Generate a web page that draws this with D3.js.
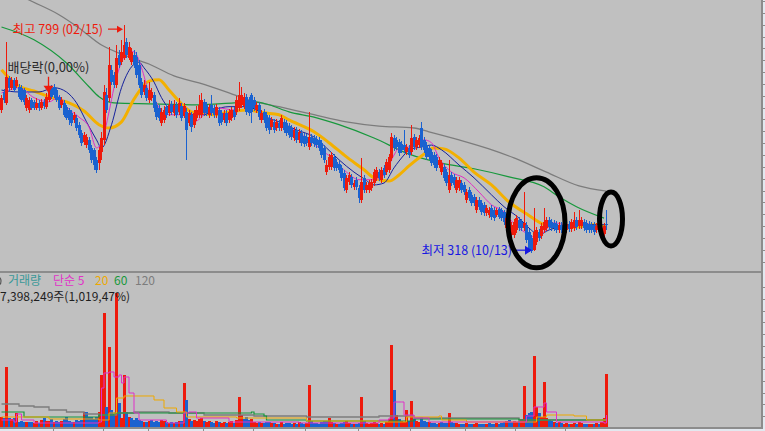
<!DOCTYPE html>
<html><head><meta charset="utf-8">
<script src="https://cdn.jsdelivr.net/npm/d3@7/dist/d3.min.js"></script>
<style>
html,body{margin:0;padding:0;overflow:hidden;background:#c0c0c0}
svg{display:block}
text{font-family:"Noto Sans CJK KR","Noto Sans",sans-serif}
</style></head><body>
<svg id="chart" width="765" height="431"></svg>
<script>
// ---------------- DATA (daily candles, price in KRW, volume in thousand shares) ----------------
const opens=[620,658,635,688,667,684,671,669,667,662,
624,620,641,637,624,635,624,637,627,641,
667,669,662,648,631,635,627,620,614,599,
603,589,572,553,546,557,540,536,515,508,
532,557,652,646,705,694,673,736,721,730,
764,730,721,736,732,715,679,658,667,641,
646,652,631,624,593,599,627,614,633,614,
631,616,629,608,616,593,610,589,603,610,
610,637,631,610,631,624,610,620,614,599,
614,599,603,620,616,624,631,629,648,641,
652,641,620,631,599,616,610,603,584,595,
582,593,582,595,593,586,582,561,578,557,
572,565,563,542,563,561,559,557,551,540,
489,500,500,521,511,506,498,487,452,468,
479,458,473,456,430,477,452,452,456,466,
477,489,473,498,489,494,519,561,557,553,
549,546,532,540,532,563,542,546,582,557,
546,540,532,525,521,504,489,500,489,452,
483,479,452,456,466,462,430,452,441,437,
409,430,424,420,403,399,414,409,399,411,
409,405,371,363,357,357,367,388,384,371,
378,363,350,325,342,363,354,367,371,388,
384,382,380,367,378,363,367,380,369,371,
388,376,376,384,382,380,378,378,367,376,
361,359,379];
const highs=[652,665,764,692,690,688,690,675,673,667,
652,648,646,641,646,641,643,643,656,669,
673,675,667,652,648,641,631,624,620,616,
610,595,578,574,570,563,546,540,521,542,
574,673,667,753,715,700,757,747,768,799,
772,764,751,747,743,726,688,684,673,679,
667,658,637,631,624,629,633,641,639,641,
637,646,635,635,624,620,616,620,629,652,
656,643,637,633,652,631,633,627,620,620,
620,622,627,627,650,679,669,656,654,648,
656,648,637,637,620,622,616,610,605,601,
601,599,610,601,599,593,589,584,584,580,
578,572,570,616,570,567,565,563,557,546,
515,527,532,527,517,513,504,494,483,489,
485,473,479,462,519,483,468,473,475,496,
500,496,500,504,517,527,572,567,563,559,
555,578,549,546,589,570,563,567,595,563,
553,546,538,532,527,521,515,506,496,515,
489,485,479,479,473,468,454,458,447,443,
437,437,430,426,420,416,420,416,414,416,
414,409,397,392,384,390,399,395,390,447,
384,369,357,414,373,369,382,414,395,395,
390,388,386,384,384,384,386,386,390,405,
395,409,395,390,388,386,384,384,382,382,
378,382,409];
const lows=[614,635,631,658,662,658,667,643,637,631,
618,614,620,620,620,618,620,622,622,637,
643,646,637,620,624,605,599,589,586,593,
576,561,544,546,540,530,508,494,487,494,
515,546,614,637,673,667,667,709,715,726,
730,726,715,709,688,667,646,652,639,635,
639,616,599,597,586,593,603,608,610,608,
603,610,597,603,515,586,574,582,597,603,
603,608,608,603,608,603,603,586,589,593,
586,593,597,599,610,618,624,622,610,608,
593,618,614,599,593,593,576,570,578,572,
576,576,576,572,565,561,557,555,551,551,
544,542,544,536,544,542,540,534,519,508,
483,494,494,492,492,487,470,449,445,462,
456,452,452,424,424,445,445,445,449,460,
470,470,466,477,483,487,513,534,536,523,
530,530,525,519,525,536,536,540,536,530,
515,515,502,498,492,498,483,470,460,445,
460,456,445,449,445,441,424,428,418,418,
403,409,399,397,397,392,388,386,395,390,
386,378,365,357,350,350,361,365,365,365,
340,321,318,323,336,344,348,361,365,367,
365,365,361,361,361,357,361,363,363,365,
367,369,369,365,361,361,361,357,361,357,
354,352,367];
const closes=[646,641,690,667,684,662,684,648,641,637,
646,641,624,624,635,624,637,629,648,662,
648,652,641,624,641,610,603,599,593,610,
582,567,551,567,563,536,515,504,494,536,
561,658,620,715,679,673,730,715,743,757,
736,753,743,715,694,673,652,673,646,662,
658,624,605,603,616,620,610,631,616,631,
610,635,603,629,578,614,584,614,620,631,
641,614,614,627,614,610,627,593,595,614,
593,616,620,605,641,652,652,648,616,614,
616,624,631,605,614,599,582,578,599,578,
595,582,603,578,572,567,563,578,557,574,
551,549,551,563,551,549,546,540,525,515,
504,521,525,498,498,494,477,456,477,483,
462,466,458,435,468,452,462,466,468,489,
494,477,494,483,511,521,563,540,542,530,
536,536,542,525,561,542,557,561,542,536,
521,521,508,504,498,515,508,477,466,483,
466,462,473,473,452,447,447,435,424,424,
430,416,405,403,414,409,395,392,409,395,
392,384,392,388,378,384,392,371,371,382,
346,325,323,363,367,350,376,384,388,373,
371,371,367,378,367,378,380,369,384,388,
373,388,388,371,367,367,367,363,376,363,
371,376,377];
const volumes=[1400,1260,8380,1260,1120,1260,1960,700,840,700,
700,700,700,560,840,560,980,1260,840,840,
1120,700,840,700,840,1120,1400,840,700,700,
980,840,980,2100,2100,1400,1400,1120,1400,2100,
7260,15960,2800,11200,2380,1680,18760,3360,1260,7260,
2100,1400,1260,980,1260,980,840,700,700,840,
980,700,840,700,980,840,700,560,700,560,
700,840,840,6160,3780,1120,840,980,840,1120,
1260,840,700,840,700,560,840,700,560,700,
560,700,840,560,980,4200,1680,1120,1400,980,
1120,700,560,700,560,560,700,700,560,560,
420,420,700,420,560,560,420,560,420,700,
560,420,560,5880,840,560,560,420,700,840,
840,1260,700,560,420,420,560,700,840,560,
420,420,420,560,4200,840,560,420,560,700,
560,420,560,420,700,1120,11480,5180,1680,1120,
840,700,2380,840,3640,1120,840,700,1400,840,
700,700,560,560,420,560,700,560,560,1960,
700,560,560,420,420,420,560,420,420,420,
560,420,420,420,420,560,420,420,560,420,
560,700,840,980,700,840,700,840,1120,5740,
1680,1960,2100,9940,2800,1960,1400,6300,1260,980,
840,700,560,700,560,420,560,420,420,560,
420,700,560,420,420,420,420,420,560,420,
700,1260,7398];

// moving averages: [candle index, value]
const ma5Pts=[[0,656],[3,662],[7,667],[13,646],[19,637],[23,648],[26,627],[31,605],[35,584],[38,540],[40,551],[43,616],[45,667],[48,721],[51,743],[53,743],[56,709],[59,658],[61,646],[64,616],[67,610],[73,610],[77,595],[81,610],[83,620],[87,624],[93,620],[95,637],[98,641],[102,627],[106,603],[111,589],[117,578],[122,561],[127,540],[133,515],[138,489],[143,473],[149,473],[153,483],[157,525],[159,540],[163,542],[169,557],[172,551],[175,519],[180,489],[185,477],[191,447],[196,420],[201,405],[203,392],[207,371],[211,357],[214,350],[217,363],[221,382],[226,378],[233,382],[238,373],[242,371]];
const ma10Pts=[[0,662],[7,658],[15,658],[21,667],[26,658],[30,635],[34,595],[38,557],[40,540],[44,589],[48,667],[52,711],[55,721],[57,709],[61,679],[64,646],[67,624],[71,616],[75,610],[81,610],[85,620],[91,627],[98,627],[102,620],[106,605],[111,595],[118,578],[125,563],[130,540],[135,515],[141,489],[145,475],[149,462],[153,466],[157,498],[161,525],[163,536],[168,542],[172,546],[176,536],[183,504],[189,477],[196,441],[201,416],[207,392],[211,371],[215,357],[219,367],[223,373],[230,378],[242,378]];
const ma20Pts=[[0,705],[6,673],[13,660],[19,648],[26,637],[33,618],[39,589],[43,582],[48,595],[53,643],[59,681],[63,684],[67,662],[72,633],[76,616],[85,610],[91,616],[98,620],[105,614],[111,610],[115,599],[125,574],[131,551],[138,521],[145,494],[149,477],[155,470],[159,483],[163,502],[168,523],[173,540],[177,538],[183,519],[189,489],[196,462],[203,426],[210,401],[217,378],[223,371],[230,373],[237,378],[242,373]];
const ma60Pts=[[0,795],[13,768],[26,719],[35,669],[39,648],[45,635],[59,633],[79,631],[93,635],[101,637],[107,631],[115,616],[125,605],[135,589],[149,561],[163,527],[176,508],[189,496],[203,479],[217,458],[223,437],[230,416],[241,392]];
const ma120Pts=[[0,882],[11,852],[23,821],[31,793],[40,757],[49,736],[59,717],[69,692],[79,677],[91,656],[99,641],[111,627],[125,610],[138,595],[151,586],[165,582],[171,574],[183,557],[195,538],[205,519],[218,489],[231,460],[242,449]];
const vma5Pts=[[0,977],[5,698],[6,1815],[8,977],[13,558],[39,698],[40,5444],[41,7538],[43,7678],[45,6980],[47,7259],[48,6142],[49,6980],[51,4746],[53,1954],[55,977],[66,558],[73,1954],[75,2094],[78,1256],[91,698],[119,558],[151,977],[155,1256],[157,3490],[160,3490],[161,1675],[165,1256],[171,698],[209,698],[210,1536],[213,2792],[215,2792],[217,3350],[218,2094],[221,2094],[222,698],[241,558],[242,1675]];
const vma20Pts=[[0,1396],[11,1396],[19,1117],[39,977],[43,1954],[46,4048],[49,4328],[57,4328],[61,3769],[65,2652],[70,2094],[74,1396],[79,1396],[94,1256],[122,838],[151,698],[162,1396],[175,1536],[176,977],[186,698],[207,698],[214,1396],[218,1675],[229,1536],[234,977],[242,977]];
const vma60Pts=[[0,2094],[8,2094],[9,1396],[39,1675],[45,1954],[66,1954],[100,2094],[101,1815],[105,1536],[106,977],[122,838],[151,838],[165,1117],[186,1117],[207,977],[242,977]];
const vma120Pts=[[0,3211],[7,2932],[13,2792],[19,2373],[26,2094],[33,1815],[39,1675],[46,1954],[53,2094],[67,1954],[81,1675],[101,1536],[122,1396],[151,1536],[165,1256],[207,977],[242,977]];

const priceTicks=[300,325,350,375,400,425,450,475,500,525,550,575,600,625,650,675,700,725,750,775,800,825,850];
const volTicks=[1540,3170,4800,6440,8070,9710,11340,12970,14610,16240,17870,19510];
const monthStarts=[20,40,58,80,100,121,142,163,185,205,225];

const hiIdx=49, hiVal=799, hiLabel="최고 799 (02/15)";
const loIdx=212, loVal=318, loLabel="최저 318 (10/13)";
const divIdx=19, divLabel="배당락(0,00%)";
const circles=[[214,382],[243.8,390]];
const volLegend=[["거래량","#3a9898"],["단순 5","#e030c8"],["20","#eea800"],["60","#18983a"],["120","#7c7c7c"]];
const volText="7,398,249주(1,019,47%)";

// ---------------- DRAW ----------------
const RED="#ee1a0c", BLUE="#1a62d0";
const svg=d3.select("#chart");
const x=d3.scaleLinear().domain([0,242]).range([1.5,606.5]);
const y=d3.scaleLinear().domain([278.3,852]).range([272,0]);
const vy=d3.scaleLinear().domain([0,21636]).range([427,272]);

svg.append("rect").attr("width",765).attr("height",431).attr("fill","#c0c0c0");
const defs=svg.append("defs");
defs.append("clipPath").attr("id","cp").append("rect").attr("x",0).attr("y",0).attr("width",762).attr("height",271);
defs.append("clipPath").attr("id","cv").append("rect").attr("x",0).attr("y",273).attr("width",762).attr("height",155);

const gP=svg.append("g").attr("clip-path","url(#cp)");
const lineP=d3.line().x(d=>x(d[0])).y(d=>y(d[1])).curve(d3.curveMonotoneX);
[[ma120Pts,"#7c7c7c",1.3],[ma60Pts,"#17983c",1.2],[ma20Pts,"#f3b000",3],[ma10Pts,"#15219c",1],[ma5Pts,"#e02ec6",1]]
 .forEach(([pts,c,w])=>gP.append("path").attr("d",lineP(pts)).attr("fill","none").attr("stroke",c).attr("stroke-width",w));

const idx=d3.range(opens.length);
const up=i=>closes[i]>=opens[i];
const cg=gP.append("g").attr("shape-rendering","crispEdges");
cg.selectAll("line").data(idx).join("line")
  .attr("x1",i=>x(i)).attr("x2",i=>x(i)).attr("y1",i=>y(highs[i])).attr("y2",i=>y(lows[i]))
  .attr("stroke",i=>up(i)?RED:BLUE).attr("stroke-width",1);
cg.selectAll("rect").data(idx).join("rect")
  .attr("x",i=>x(i)-1.5).attr("width",3)
  .attr("y",i=>y(Math.max(opens[i],closes[i])))
  .attr("height",i=>Math.max(1,Math.abs(y(opens[i])-y(closes[i]))))
  .attr("fill",i=>up(i)?RED:BLUE);

// high annotation
const hx=x(hiIdx)-1, hy=y(hiVal)+4;
gP.append("line").attr("x1",hx-15).attr("x2",hx-5).attr("y1",hy).attr("y2",hy).attr("stroke",RED).attr("stroke-width",1.2);
gP.append("path").attr("d",`M${hx-6},${hy-3.5}L${hx},${hy}L${hx-6},${hy+3.5}Z`).attr("fill",RED);
gP.append("text").attr("x",hx-20).attr("y",hy+5).attr("text-anchor","end").attr("font-size",12.5).attr("fill",RED).text(hiLabel);

// dividend annotation
const dx=x(divIdx)-0.5, dy=y(highs[divIdx]);
gP.append("text").attr("x",dx).attr("y",dy-15).attr("text-anchor","middle").attr("font-size",13).attr("fill","#2a2a2a").text(divLabel);
gP.append("line").attr("x1",dx).attr("x2",dx).attr("y1",dy-10).attr("y2",dy).attr("stroke",RED).attr("stroke-width",1.3);
gP.append("path").attr("d",`M${dx-5},${dy-1}L${dx+5},${dy-1}L${dx},${dy+6}Z`).attr("fill",RED);

// low annotation
const lx=x(loIdx)+0.5, ly=y(loVal)-3;
gP.append("text").attr("x",lx-20).attr("y",ly+5).attr("text-anchor","end").attr("font-size",12.5).attr("fill","#1818e0").text(loLabel);
gP.append("line").attr("x1",lx-20).attr("x2",lx-6).attr("y1",ly).attr("y2",ly).attr("stroke","#1818e0").attr("stroke-width",1.2);
gP.append("path").attr("d",`M${lx-7},${ly-4.5}L${lx},${ly}L${lx-7},${ly+4.5}Z`).attr("fill","#1818e0");

// hand-drawn ellipses
const radii=[[28.5,45],[11.5,27]];
circles.forEach((c,k)=>gP.append("ellipse").attr("cx",x(c[0])).attr("cy",y(c[1]))
  .attr("rx",radii[k][0]).attr("ry",radii[k][1]).attr("fill","none").attr("stroke","#000").attr("stroke-width",5));

// volume pane
const gV=svg.append("g").attr("clip-path","url(#cv)");
const vUp=i=>i===0?up(i):closes[i]>=closes[i-1];
gV.append("g").attr("shape-rendering","crispEdges").selectAll("rect").data(idx).join("rect")
  .attr("x",i=>x(i)-1.5).attr("width",3)
  .attr("y",i=>vy(volumes[i])).attr("height",i=>Math.max(0.5,vy(0)-vy(volumes[i])))
  .attr("fill",i=>vUp(i)?RED:BLUE);
const lineV=d3.line().x(d=>x(d[0])).y(d=>vy(d[1])).curve(d3.curveStepAfter);
[[vma120Pts,"#7c7c7c",1.3],[vma60Pts,"#17983c",1.2],[vma20Pts,"#eea800",1],[vma5Pts,"#e030c8",1]]
 .forEach(([pts,c,w])=>gV.append("path").attr("d",lineV(pts)).attr("fill","none").attr("stroke",c).attr("stroke-width",w));

// volume legend (icon cut by the left edge, drawn as a shape)
svg.append("path").attr("d","M-2,277 A3,4 0 0 1 -2,285").attr("fill","none").attr("stroke","#555").attr("stroke-width",1.2);
const legX=[8,53,95,114,135];
volLegend.forEach((d,k)=>svg.append("text").attr("x",legX[k]).attr("y",285).attr("font-size",12).attr("fill",d[1]).text(d[0]));
svg.append("text").attr("x",0).attr("y",300.5).attr("font-size",12).attr("fill","#1e1e1e").text(volText);

// frame: separator, right axis, bottom
const fr=svg.append("g").attr("shape-rendering","crispEdges");
fr.append("rect").attr("x",763).attr("y",0).attr("width",2).attr("height",431).attr("fill","#e2e8ef");
fr.append("rect").attr("x",0).attr("y",429).attr("width",765).attr("height",2).attr("fill","#e2e8ef");
fr.append("line").attr("x1",0).attr("x2",762).attr("y1",272).attr("y2",272).attr("stroke","#8c8c8c").attr("stroke-width",1.5);
fr.append("line").attr("x1",762).attr("x2",762).attr("y1",0).attr("y2",429).attr("stroke","#8c8c8c").attr("stroke-width",1.5);
fr.append("line").attr("x1",0).attr("x2",763).attr("y1",428).attr("y2",428).attr("stroke","#8c8c8c").attr("stroke-width",1.5);
fr.selectAll("line.pt").data(priceTicks).join("line").attr("class","pt")
  .attr("x1",763).attr("x2",765).attr("y1",d=>Math.round(y(d))+0.5).attr("y2",d=>Math.round(y(d))+0.5).attr("stroke","#8c8c8c");
fr.selectAll("line.vt").data(volTicks).join("line").attr("class","vt")
  .attr("x1",763).attr("x2",765).attr("y1",d=>Math.round(vy(d))+0.5).attr("y2",d=>Math.round(vy(d))+0.5).attr("stroke","#8c8c8c");
fr.selectAll("line.mt").data(monthStarts).join("line").attr("class","mt")
  .attr("x1",d=>Math.round(x(d)+1)+0.5).attr("x2",d=>Math.round(x(d)+1)+0.5).attr("y1",428).attr("y2",431).attr("stroke","#8c8c8c");
</script>
</body></html>
